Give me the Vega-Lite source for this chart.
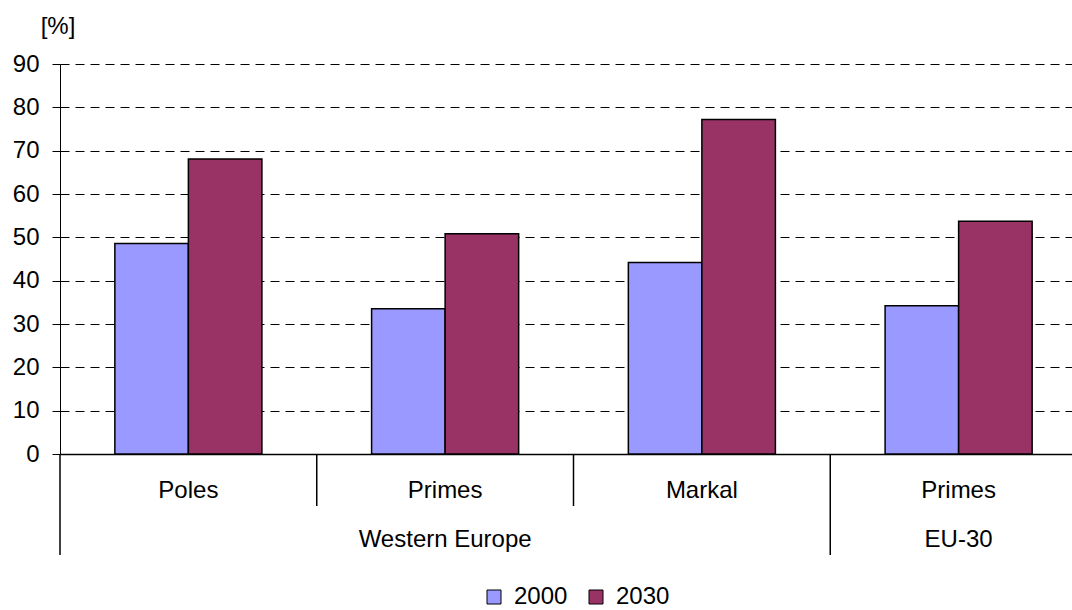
{
  "$schema": "https://vega.github.io/schema/vega-lite/v6.json",
  "autosize": {"type": "none"},
  "padding": {"left": 60, "top": 64, "right": 0, "bottom": 156},
  "width": 1012,
  "height": 390,
  "background": "white",
  "datasets": {
    "bars": [
      {"cat": "Western Europe / Poles", "region": "Western Europe", "model": "Poles", "year": "2000", "value": 48.6},
      {"cat": "Western Europe / Poles", "region": "Western Europe", "model": "Poles", "year": "2030", "value": 68.1},
      {"cat": "Western Europe / Primes", "region": "Western Europe", "model": "Primes", "year": "2000", "value": 33.5},
      {"cat": "Western Europe / Primes", "region": "Western Europe", "model": "Primes", "year": "2030", "value": 50.8},
      {"cat": "Western Europe / Markal", "region": "Western Europe", "model": "Markal", "year": "2000", "value": 44.2},
      {"cat": "Western Europe / Markal", "region": "Western Europe", "model": "Markal", "year": "2030", "value": 77.2},
      {"cat": "EU-30 / Primes", "region": "EU-30", "model": "Primes", "year": "2000", "value": 34.2},
      {"cat": "EU-30 / Primes", "region": "EU-30", "model": "Primes", "year": "2030", "value": 53.7}
    ],
    "regions": [
      {"cat": "Western Europe / Primes", "region": "Western Europe"},
      {"cat": "EU-30 / Primes", "region": "EU-30"}
    ],
    "separators": [
      {"cat": "Western Europe / Primes", "level": "model"},
      {"cat": "Western Europe / Markal", "level": "model"},
      {"cat": "Western Europe / Poles", "level": "region"},
      {"cat": "EU-30 / Primes", "level": "region"}
    ]
  },
  "layer": [
    {
      "data": {"name": "bars"},
      "mark": {"type": "bar", "stroke": "#000000", "strokeWidth": 1.5},
      "encoding": {
        "x": {
          "field": "cat", "type": "nominal",
          "scale": {"domain": ["Western Europe / Poles", "Western Europe / Primes", "Western Europe / Markal", "EU-30 / Primes"], "range": [0, 1027], "paddingInner": 0, "paddingOuter": 0},
          "axis": {
            "title": null,
            "labelExpr": "split(datum.label, ' / ')[1]",
            "labelAngle": 0,
            "labelFont": "Liberation Sans",
            "labelFontSize": 24,
            "labelColor": "#000000",
            "labelBaseline": "middle",
            "labelPadding": 36,
            "ticks": false,
            "tickSize": 0,
            "domainColor": "#000000",
            "domainWidth": 1.5,
            "grid": false
          }
        },
        "xOffset": {
          "field": "year", "type": "nominal",
          "scale": {"paddingInner": 0, "paddingOuter": 0.746}
        },
        "y": {
          "field": "value", "type": "quantitative",
          "scale": {"domain": [0, 90], "nice": false},
          "axis": {
            "title": "[%]",
            "titleAngle": 0,
            "titleX": -2.5,
            "titleY": -37.5,
            "titleAlign": "center",
            "titleBaseline": "middle",
            "titleFont": "Liberation Sans",
            "titleFontSize": 24,
            "titleFontWeight": "normal",
            "titleColor": "#000000",
            "values": [0, 10, 20, 30, 40, 50, 60, 70, 80, 90],
            "labelFont": "Liberation Sans",
            "labelFontSize": 24,
            "labelColor": "#000000",
            "labelPadding": 13,
            "labelBaseline": "middle",
            "tickSize": 8,
            "tickColor": "#000000",
            "tickWidth": 1,
            "domainColor": "#000000",
            "domainWidth": 1,
            "grid": true,
            "gridColor": "#000000",
            "gridWidth": 1,
            "gridDash": [9, 6]
          }
        },
        "color": {
          "field": "year", "type": "nominal",
          "scale": {"domain": ["2000", "2030"], "range": ["#9999FF", "#993366"]},
          "legend": {
            "title": null,
            "orient": "none",
            "direction": "horizontal",
            "legendX": 422,
            "legendY": 521,
            "symbolType": "square",
            "symbolSize": 196,
            "symbolStrokeColor": "#000000",
            "symbolStrokeWidth": 1,
            "symbolOpacity": 1,
            "labelFont": "Liberation Sans",
            "labelFontSize": 24,
            "labelColor": "#000000",
            "labelOffset": 8,
            "columnPadding": 16
          }
        }
      }
    },
    {
      "data": {"name": "separators"},
      "transform": [{"filter": "datum.level === 'model'"}],
      "mark": {"type": "rule", "color": "#000000", "strokeWidth": 1.5},
      "encoding": {
        "x": {"field": "cat", "type": "nominal", "bandPosition": 0},
        "y": {"datum": 0},
        "y2": {"datum": -12}
      }
    },
    {
      "data": {"name": "separators"},
      "transform": [{"filter": "datum.level === 'region'"}],
      "mark": {"type": "rule", "color": "#000000", "strokeWidth": 1.5},
      "encoding": {
        "x": {"field": "cat", "type": "nominal", "bandPosition": 0},
        "y": {"datum": 0},
        "y2": {"datum": -23.3}
      }
    },
    {
      "data": {"name": "regions"},
      "mark": {"type": "text", "font": "Liberation Sans", "fontSize": 24, "color": "#000000", "baseline": "middle", "align": "center"},
      "encoding": {
        "x": {"field": "cat", "type": "nominal"},
        "y": {"datum": -19.85},
        "text": {"field": "region"}
      }
    }
  ],
  "config": {
    "view": {"stroke": null}
  }
}
